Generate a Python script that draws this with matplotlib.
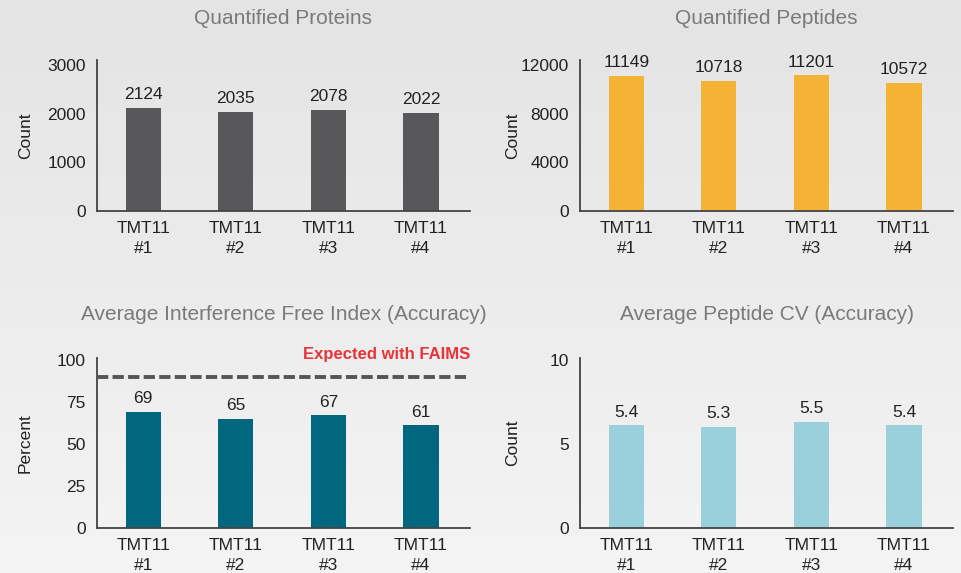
import numpy as np
import matplotlib
matplotlib.use('Agg')
from matplotlib import pyplot as plt

plt.rcParams['font.family'] = ['Liberation Sans', 'DejaVu Sans']

# data
samples = ['TMT11\n#1', 'TMT11\n#2', 'TMT11\n#3', 'TMT11\n#4']
proteins = [2124, 2035, 2078, 2022]
peptides = [11149, 10718, 11201, 10572]
interference = [69, 65, 67, 61]
cv_labels = [5.4, 5.3, 5.5, 5.4]
cv_bars = [6.1, 6.0, 6.3, 6.1]   # bar heights as drawn in the picture
faims_expected = 90

W, H = 961, 573
fig = plt.figure(figsize=(W / 100, H / 100), dpi=100)

# background gradient
bg = fig.add_axes([0, 0, 1, 1], zorder=-10)
grad = np.linspace(0, 1, 256).reshape(-1, 1)
bg.imshow(grad, aspect='auto', cmap=matplotlib.colors.LinearSegmentedColormap.from_list(
    'bg', ['#e4e4e4', '#f4f4f4']), extent=[0, 1, 0, 1], origin='upper')
bg.axis('off')


def px_axes(x0, y0, x1, y1):
    return fig.add_axes([x0 / W, 1 - y1 / H, (x1 - x0) / W, (y1 - y0) / H])


def panel(ax, vals, labels, color, ylim, yticks, ylabel, title, title_y, fmt):
    x = np.arange(len(vals))
    ax.bar(x, vals, width=0.38, color=color, zorder=2)
    for xi, v, lab in zip(x, vals, labels):
        ax.annotate(fmt.format(lab), (xi, v), xytext=(0, 4), textcoords='offset points',
                    ha='center', va='bottom', fontsize=12.5, color='#222222')
    ax.set_xlim(-0.5, 3.53)
    ax.set_ylim(*ylim)
    ax.set_yticks(yticks)
    ax.set_xticks(x)
    ax.set_xticklabels(samples, fontsize=12.5, color='#222222', linespacing=1.4)
    ax.tick_params(axis='y', labelsize=12.5, labelcolor='#222222', length=0, pad=8)
    ax.tick_params(axis='x', length=0, pad=7)
    ax.patch.set_alpha(0)
    for s in ['top', 'right']:
        ax.spines[s].set_visible(False)
    for s in ['left', 'bottom']:
        ax.spines[s].set_color('#444444')
        ax.spines[s].set_linewidth(1.3)
    ax.set_ylabel(ylabel, fontsize=12.5, color='#222222')
    bb = ax.get_position()
    fig.text((bb.x0 + bb.x1) / 2, 1 - title_y / H, title, ha='center', va='center',
             fontsize=15, color='#7a7a7a')
    return ax


ax1 = px_axes(97, 60, 470, 211)
panel(ax1, proteins, proteins, '#58585a', (0, 3100), [0, 1000, 2000, 3000], 'Count',
      'Quantified Proteins', 19, '{}')
ax1.yaxis.set_label_coords(-0.172, 0.5)

ax2 = px_axes(580, 60, 953, 211)
panel(ax2, peptides, peptides, '#f5b335', (0, 12450), [0, 4000, 8000, 12000], 'Count',
      'Quantified Peptides', 19, '{}')
ax2.yaxis.set_label_coords(-0.161, 0.5)

ax3 = px_axes(97, 358, 470, 528)
panel(ax3, interference, interference, '#00677f', (0, 101), [0, 25, 50, 75, 100], 'Percent',
      'Average Interference Free Index (Accuracy)', 315, '{}')
ax3.yaxis.set_label_coords(-0.172, 0.5)
ax3.axhline(faims_expected, color='#555555', lw=2.8, dashes=(2.9, 1.1), zorder=3)
ax3.text(1.0, 1.02, 'Expected with FAIMS', transform=ax3.transAxes, ha='right', va='center',
         fontsize=12, fontweight='bold', color='#e8333a')

ax4 = px_axes(580, 358, 953, 528)
panel(ax4, cv_bars, cv_labels, '#99d0dc', (0, 10.1), [0, 5, 10], 'Count',
      'Average Peptide CV (Accuracy)', 315, '{}')
ax4.yaxis.set_label_coords(-0.161, 0.5)

fig.savefig('out.png', dpi=100)
